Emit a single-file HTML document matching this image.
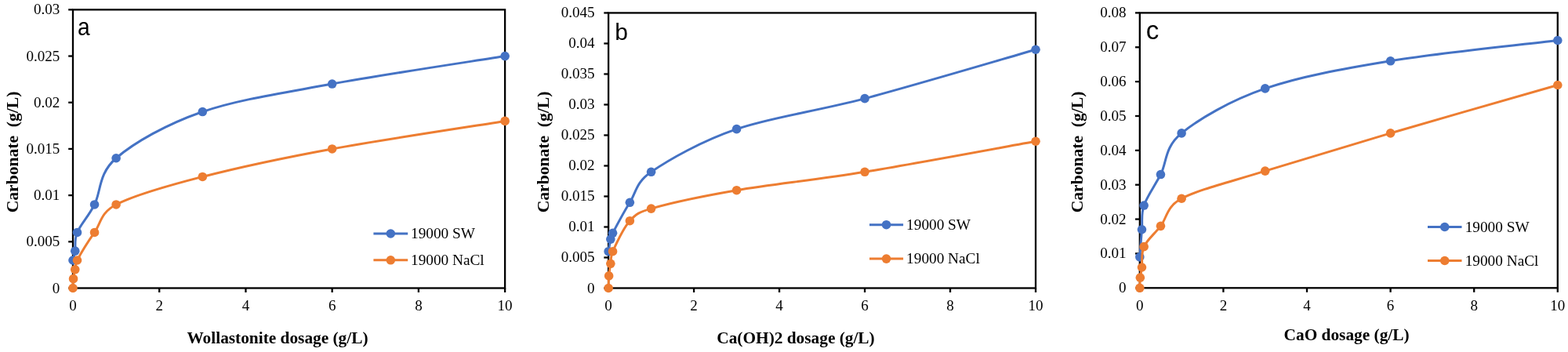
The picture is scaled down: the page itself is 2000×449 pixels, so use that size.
<!DOCTYPE html>
<html><head><meta charset="utf-8"><title>Carbonate vs dosage</title>
<style>
html,body{margin:0;padding:0;background:#fff;}
body{width:2000px;height:449px;overflow:hidden;}
svg{display:block;}
.t{font-family:'Liberation Serif','Times New Roman',serif;font-size:19.0px;fill:#000;}
.ti{font-family:'Liberation Serif','Times New Roman',serif;font-size:21.33px;font-weight:bold;fill:#000;white-space:pre;}
.lt{font-family:'Liberation Sans',Arial,sans-serif;font-size:31px;fill:#000;}
.ax{stroke:#000;stroke-width:2.3;fill:none;}
</style></head>
<body>
<svg width="2000" height="449" viewBox="0 0 2000 449">
<rect x="0" y="0" width="2000" height="449" fill="#fff" stroke="none"/>
<line class="ax" x1="87.20" y1="367.50" x2="93.00" y2="367.50" />
<text class="t" x="76.20" y="373.50" text-anchor="end">0</text>
<line class="ax" x1="87.20" y1="308.31" x2="93.00" y2="308.31" />
<text class="t" x="76.20" y="314.31" text-anchor="end">0.005</text>
<line class="ax" x1="87.20" y1="249.12" x2="93.00" y2="249.12" />
<text class="t" x="76.20" y="255.12" text-anchor="end">0.01</text>
<line class="ax" x1="87.20" y1="189.93" x2="93.00" y2="189.93" />
<text class="t" x="76.20" y="195.93" text-anchor="end">0.015</text>
<line class="ax" x1="87.20" y1="130.73" x2="93.00" y2="130.73" />
<text class="t" x="76.20" y="136.73" text-anchor="end">0.02</text>
<line class="ax" x1="87.20" y1="71.54" x2="93.00" y2="71.54" />
<text class="t" x="76.20" y="77.54" text-anchor="end">0.025</text>
<line class="ax" x1="87.20" y1="12.35" x2="93.00" y2="12.35" />
<text class="t" x="76.20" y="18.35" text-anchor="end">0.03</text>
<line class="ax" x1="93.00" y1="367.50" x2="93.00" y2="373.00" />
<text class="t" x="93.00" y="396.30" text-anchor="middle">0</text>
<line class="ax" x1="203.22" y1="367.50" x2="203.22" y2="373.00" />
<text class="t" x="203.22" y="396.30" text-anchor="middle">2</text>
<line class="ax" x1="313.44" y1="367.50" x2="313.44" y2="373.00" />
<text class="t" x="313.44" y="396.30" text-anchor="middle">4</text>
<line class="ax" x1="423.66" y1="367.50" x2="423.66" y2="373.00" />
<text class="t" x="423.66" y="396.30" text-anchor="middle">6</text>
<line class="ax" x1="533.88" y1="367.50" x2="533.88" y2="373.00" />
<text class="t" x="533.88" y="396.30" text-anchor="middle">8</text>
<line class="ax" x1="644.10" y1="367.50" x2="644.10" y2="373.00" />
<text class="t" x="644.10" y="396.30" text-anchor="middle">10</text>
<rect class="ax" x="93.00" y="12.35" width="551.10" height="355.15" fill="none" />
<path d="M93.00,331.99 C93.46,330.01 94.84,326.07 95.76,320.15 C96.67,314.23 94.38,306.34 98.51,296.47 C102.64,286.60 112.29,276.74 120.56,260.96 C128.82,245.17 125.15,221.49 148.11,201.76 C171.07,182.03 212.41,158.36 258.33,142.57 C304.25,126.79 359.36,118.90 423.66,107.06 C487.95,95.22 607.36,77.46 644.10,71.54" fill="none" stroke="#4472C4" stroke-width="3.0" stroke-linejoin="round" stroke-linecap="round"/>
<circle cx="93.00" cy="331.99" r="5.8" fill="#4472C4" stroke="none"/>
<circle cx="95.76" cy="320.15" r="5.8" fill="#4472C4" stroke="none"/>
<circle cx="98.51" cy="296.47" r="5.8" fill="#4472C4" stroke="none"/>
<circle cx="120.56" cy="260.96" r="5.8" fill="#4472C4" stroke="none"/>
<circle cx="148.11" cy="201.76" r="5.8" fill="#4472C4" stroke="none"/>
<circle cx="258.33" cy="142.57" r="5.8" fill="#4472C4" stroke="none"/>
<circle cx="423.66" cy="107.06" r="5.8" fill="#4472C4" stroke="none"/>
<circle cx="644.10" cy="71.54" r="5.8" fill="#4472C4" stroke="none"/>
<path d="M93.00,367.50 C93.09,365.53 93.09,359.61 93.55,355.66 C94.01,351.72 94.93,347.77 95.76,343.82 C96.58,339.88 95.69,337.37 98.51,331.99 C102.64,324.09 112.29,308.31 120.56,296.47 C128.82,284.63 128.13,271.25 148.11,260.96 C171.07,249.12 212.41,237.28 258.33,225.44 C304.25,213.60 359.36,201.76 423.66,189.93 C487.95,178.09 607.36,160.33 644.10,154.41" fill="none" stroke="#ED7D31" stroke-width="3.0" stroke-linejoin="round" stroke-linecap="round"/>
<circle cx="93.00" cy="367.50" r="5.8" fill="#ED7D31" stroke="none"/>
<circle cx="93.55" cy="355.66" r="5.8" fill="#ED7D31" stroke="none"/>
<circle cx="95.76" cy="343.82" r="5.8" fill="#ED7D31" stroke="none"/>
<circle cx="98.51" cy="331.99" r="5.8" fill="#ED7D31" stroke="none"/>
<circle cx="120.56" cy="296.47" r="5.8" fill="#ED7D31" stroke="none"/>
<circle cx="148.11" cy="260.96" r="5.8" fill="#ED7D31" stroke="none"/>
<circle cx="258.33" cy="225.44" r="5.8" fill="#ED7D31" stroke="none"/>
<circle cx="423.66" cy="189.93" r="5.8" fill="#ED7D31" stroke="none"/>
<circle cx="644.10" cy="154.41" r="5.8" fill="#ED7D31" stroke="none"/>
<line x1="476.40" y1="298.00" x2="520.20" y2="298.00" stroke="#4472C4" stroke-width="3.0" stroke-linecap="butt"/>
<circle cx="498.30" cy="298.00" r="5.8" fill="#4472C4"/>
<text class="t" style="font-size:19.3px" x="524.00" y="304.30">19000 SW</text>
<line x1="476.40" y1="331.80" x2="520.20" y2="331.80" stroke="#ED7D31" stroke-width="3.0" stroke-linecap="butt"/>
<circle cx="498.30" cy="331.80" r="5.8" fill="#ED7D31"/>
<text class="t" style="font-size:19.3px" x="524.00" y="338.10">19000 NaCl</text>
<text class="ti" x="354.00" y="438.30" text-anchor="middle">Wollastonite dosage (g/L)</text>
<text class="ti" style="font-size:21.6px" transform="translate(22.60,271.30) rotate(-90)" x="0" y="0" xml:space="preserve">Carbonate  (g/L)</text>
<text class="lt" style="font-size:32px" transform="translate(99.10,45.20) scale(0.88,1)" x="0" y="0">a</text>
<line class="ax" x1="770.30" y1="367.50" x2="776.10" y2="367.50" />
<text class="t" x="758.50" y="373.50" text-anchor="end">0</text>
<line class="ax" x1="770.30" y1="328.49" x2="776.10" y2="328.49" />
<text class="t" x="758.50" y="334.49" text-anchor="end">0.005</text>
<line class="ax" x1="770.30" y1="289.49" x2="776.10" y2="289.49" />
<text class="t" x="758.50" y="295.49" text-anchor="end">0.01</text>
<line class="ax" x1="770.30" y1="250.48" x2="776.10" y2="250.48" />
<text class="t" x="758.50" y="256.48" text-anchor="end">0.015</text>
<line class="ax" x1="770.30" y1="211.48" x2="776.10" y2="211.48" />
<text class="t" x="758.50" y="217.48" text-anchor="end">0.02</text>
<line class="ax" x1="770.30" y1="172.47" x2="776.10" y2="172.47" />
<text class="t" x="758.50" y="178.47" text-anchor="end">0.025</text>
<line class="ax" x1="770.30" y1="133.47" x2="776.10" y2="133.47" />
<text class="t" x="758.50" y="139.47" text-anchor="end">0.03</text>
<line class="ax" x1="770.30" y1="94.46" x2="776.10" y2="94.46" />
<text class="t" x="758.50" y="100.46" text-anchor="end">0.035</text>
<line class="ax" x1="770.30" y1="55.46" x2="776.10" y2="55.46" />
<text class="t" x="758.50" y="61.46" text-anchor="end">0.04</text>
<line class="ax" x1="770.30" y1="16.45" x2="776.10" y2="16.45" />
<text class="t" x="758.50" y="22.45" text-anchor="end">0.045</text>
<line class="ax" x1="776.10" y1="367.50" x2="776.10" y2="373.00" />
<text class="t" x="776.10" y="396.30" text-anchor="middle">0</text>
<line class="ax" x1="885.08" y1="367.50" x2="885.08" y2="373.00" />
<text class="t" x="885.08" y="396.30" text-anchor="middle">2</text>
<line class="ax" x1="994.06" y1="367.50" x2="994.06" y2="373.00" />
<text class="t" x="994.06" y="396.30" text-anchor="middle">4</text>
<line class="ax" x1="1103.04" y1="367.50" x2="1103.04" y2="373.00" />
<text class="t" x="1103.04" y="396.30" text-anchor="middle">6</text>
<line class="ax" x1="1212.02" y1="367.50" x2="1212.02" y2="373.00" />
<text class="t" x="1212.02" y="396.30" text-anchor="middle">8</text>
<line class="ax" x1="1321.00" y1="367.50" x2="1321.00" y2="373.00" />
<text class="t" x="1321.00" y="396.30" text-anchor="middle">10</text>
<rect class="ax" x="776.10" y="16.45" width="544.90" height="351.05" fill="none" />
<path d="M776.10,320.69 C776.55,318.09 777.92,308.99 778.82,305.09 C779.73,301.19 779.63,300.95 781.55,297.29 C785.64,289.49 795.17,271.29 803.35,258.28 C811.52,245.28 810.98,232.75 830.59,219.28 C853.29,203.68 894.16,180.27 939.57,164.67 C984.98,149.07 1039.47,142.57 1103.04,125.67 C1166.61,108.76 1284.67,73.66 1321.00,63.26" fill="none" stroke="#4472C4" stroke-width="3.0" stroke-linejoin="round" stroke-linecap="round"/>
<circle cx="776.10" cy="320.69" r="5.8" fill="#4472C4" stroke="none"/>
<circle cx="778.82" cy="305.09" r="5.8" fill="#4472C4" stroke="none"/>
<circle cx="781.55" cy="297.29" r="5.8" fill="#4472C4" stroke="none"/>
<circle cx="803.35" cy="258.28" r="5.8" fill="#4472C4" stroke="none"/>
<circle cx="830.59" cy="219.28" r="5.8" fill="#4472C4" stroke="none"/>
<circle cx="939.57" cy="164.67" r="5.8" fill="#4472C4" stroke="none"/>
<circle cx="1103.04" cy="125.67" r="5.8" fill="#4472C4" stroke="none"/>
<circle cx="1321.00" cy="63.26" r="5.8" fill="#4472C4" stroke="none"/>
<path d="M776.10,367.50 C776.19,364.90 776.19,357.10 776.64,351.90 C777.10,346.70 778.01,341.50 778.82,336.30 C779.64,331.09 778.31,327.92 781.55,320.69 C785.64,311.59 795.17,290.79 803.35,281.69 C811.52,272.59 815.50,270.41 830.59,266.09 C853.29,259.58 894.16,250.48 939.57,242.68 C984.98,234.88 1039.47,229.68 1103.04,219.28 C1166.61,208.88 1284.67,186.77 1321.00,180.27" fill="none" stroke="#ED7D31" stroke-width="3.0" stroke-linejoin="round" stroke-linecap="round"/>
<circle cx="776.10" cy="367.50" r="5.8" fill="#ED7D31" stroke="none"/>
<circle cx="776.64" cy="351.90" r="5.8" fill="#ED7D31" stroke="none"/>
<circle cx="778.82" cy="336.30" r="5.8" fill="#ED7D31" stroke="none"/>
<circle cx="781.55" cy="320.69" r="5.8" fill="#ED7D31" stroke="none"/>
<circle cx="803.35" cy="281.69" r="5.8" fill="#ED7D31" stroke="none"/>
<circle cx="830.59" cy="266.09" r="5.8" fill="#ED7D31" stroke="none"/>
<circle cx="939.57" cy="242.68" r="5.8" fill="#ED7D31" stroke="none"/>
<circle cx="1103.04" cy="219.28" r="5.8" fill="#ED7D31" stroke="none"/>
<circle cx="1321.00" cy="180.27" r="5.8" fill="#ED7D31" stroke="none"/>
<line x1="1109.00" y1="286.70" x2="1152.10" y2="286.70" stroke="#4472C4" stroke-width="3.0" stroke-linecap="butt"/>
<circle cx="1130.55" cy="286.70" r="5.8" fill="#4472C4"/>
<text class="t" style="font-size:19.3px" x="1156.10" y="293.00">19000 SW</text>
<line x1="1109.00" y1="330.10" x2="1152.10" y2="330.10" stroke="#ED7D31" stroke-width="3.0" stroke-linecap="butt"/>
<circle cx="1130.55" cy="330.10" r="5.8" fill="#ED7D31"/>
<text class="t" style="font-size:19.3px" x="1156.10" y="336.40">19000 NaCl</text>
<text class="ti" x="1015.00" y="437.90" text-anchor="middle">Ca(OH)2 dosage (g/L)</text>
<text class="ti" style="font-size:21.6px" transform="translate(700.10,271.30) rotate(-90)" x="0" y="0" xml:space="preserve">Carbonate  (g/L)</text>
<text class="lt" style="font-size:30px" x="784.20" y="51.30">b</text>
<line class="ax" x1="1448.00" y1="367.30" x2="1453.80" y2="367.30" />
<text class="t" x="1436.50" y="373.30" text-anchor="end">0</text>
<line class="ax" x1="1448.00" y1="323.44" x2="1453.80" y2="323.44" />
<text class="t" x="1436.50" y="329.44" text-anchor="end">0.01</text>
<line class="ax" x1="1448.00" y1="279.57" x2="1453.80" y2="279.57" />
<text class="t" x="1436.50" y="285.57" text-anchor="end">0.02</text>
<line class="ax" x1="1448.00" y1="235.71" x2="1453.80" y2="235.71" />
<text class="t" x="1436.50" y="241.71" text-anchor="end">0.03</text>
<line class="ax" x1="1448.00" y1="191.85" x2="1453.80" y2="191.85" />
<text class="t" x="1436.50" y="197.85" text-anchor="end">0.04</text>
<line class="ax" x1="1448.00" y1="147.99" x2="1453.80" y2="147.99" />
<text class="t" x="1436.50" y="153.99" text-anchor="end">0.05</text>
<line class="ax" x1="1448.00" y1="104.12" x2="1453.80" y2="104.12" />
<text class="t" x="1436.50" y="110.12" text-anchor="end">0.06</text>
<line class="ax" x1="1448.00" y1="60.26" x2="1453.80" y2="60.26" />
<text class="t" x="1436.50" y="66.26" text-anchor="end">0.07</text>
<line class="ax" x1="1448.00" y1="16.40" x2="1453.80" y2="16.40" />
<text class="t" x="1436.50" y="22.40" text-anchor="end">0.08</text>
<line class="ax" x1="1453.80" y1="367.30" x2="1453.80" y2="372.80" />
<text class="t" x="1453.80" y="396.30" text-anchor="middle">0</text>
<line class="ax" x1="1560.40" y1="367.30" x2="1560.40" y2="372.80" />
<text class="t" x="1560.40" y="396.30" text-anchor="middle">2</text>
<line class="ax" x1="1667.00" y1="367.30" x2="1667.00" y2="372.80" />
<text class="t" x="1667.00" y="396.30" text-anchor="middle">4</text>
<line class="ax" x1="1773.60" y1="367.30" x2="1773.60" y2="372.80" />
<text class="t" x="1773.60" y="396.30" text-anchor="middle">6</text>
<line class="ax" x1="1880.20" y1="367.30" x2="1880.20" y2="372.80" />
<text class="t" x="1880.20" y="396.30" text-anchor="middle">8</text>
<line class="ax" x1="1986.80" y1="367.30" x2="1986.80" y2="372.80" />
<text class="t" x="1986.80" y="396.30" text-anchor="middle">10</text>
<rect class="ax" x="1453.80" y="16.40" width="533.00" height="350.90" fill="none" />
<path d="M1453.80,327.82 C1454.24,321.98 1455.58,303.70 1456.46,292.73 C1457.35,281.77 1455.13,273.73 1459.13,262.03 C1463.13,250.33 1472.45,237.91 1480.45,222.55 C1488.45,207.20 1484.89,188.19 1507.10,169.92 C1529.31,151.64 1569.28,128.25 1613.70,112.90 C1658.12,97.55 1711.42,88.04 1773.60,77.81 C1835.78,67.57 1951.27,55.88 1986.80,51.49" fill="none" stroke="#4472C4" stroke-width="3.0" stroke-linejoin="round" stroke-linecap="round"/>
<circle cx="1453.80" cy="327.82" r="5.8" fill="#4472C4" stroke="none"/>
<circle cx="1456.46" cy="292.73" r="5.8" fill="#4472C4" stroke="none"/>
<circle cx="1459.13" cy="262.03" r="5.8" fill="#4472C4" stroke="none"/>
<circle cx="1480.45" cy="222.55" r="5.8" fill="#4472C4" stroke="none"/>
<circle cx="1507.10" cy="169.92" r="5.8" fill="#4472C4" stroke="none"/>
<circle cx="1613.70" cy="112.90" r="5.8" fill="#4472C4" stroke="none"/>
<circle cx="1773.60" cy="77.81" r="5.8" fill="#4472C4" stroke="none"/>
<circle cx="1986.80" cy="51.49" r="5.8" fill="#4472C4" stroke="none"/>
<path d="M1453.80,367.30 C1453.89,365.11 1453.89,358.53 1454.33,354.14 C1454.78,349.75 1455.67,347.56 1456.46,340.98 C1457.26,334.40 1455.13,323.44 1459.13,314.67 C1463.13,305.89 1472.45,298.58 1480.45,288.35 C1488.45,278.11 1487.61,263.52 1507.10,253.26 C1529.31,241.56 1569.28,232.06 1613.70,218.17 C1658.12,204.28 1711.42,188.19 1773.60,169.92 C1835.78,151.64 1951.27,118.75 1986.80,108.51" fill="none" stroke="#ED7D31" stroke-width="3.0" stroke-linejoin="round" stroke-linecap="round"/>
<circle cx="1453.80" cy="367.30" r="5.8" fill="#ED7D31" stroke="none"/>
<circle cx="1454.33" cy="354.14" r="5.8" fill="#ED7D31" stroke="none"/>
<circle cx="1456.46" cy="340.98" r="5.8" fill="#ED7D31" stroke="none"/>
<circle cx="1459.13" cy="314.67" r="5.8" fill="#ED7D31" stroke="none"/>
<circle cx="1480.45" cy="288.35" r="5.8" fill="#ED7D31" stroke="none"/>
<circle cx="1507.10" cy="253.26" r="5.8" fill="#ED7D31" stroke="none"/>
<circle cx="1613.70" cy="218.17" r="5.8" fill="#ED7D31" stroke="none"/>
<circle cx="1773.60" cy="169.92" r="5.8" fill="#ED7D31" stroke="none"/>
<circle cx="1986.80" cy="108.51" r="5.8" fill="#ED7D31" stroke="none"/>
<line x1="1821.00" y1="289.50" x2="1864.50" y2="289.50" stroke="#4472C4" stroke-width="3.0" stroke-linecap="butt"/>
<circle cx="1842.75" cy="289.50" r="5.8" fill="#4472C4"/>
<text class="t" style="font-size:19.3px" x="1868.70" y="295.80">19000 SW</text>
<line x1="1821.00" y1="332.50" x2="1864.50" y2="332.50" stroke="#ED7D31" stroke-width="3.0" stroke-linecap="butt"/>
<circle cx="1842.75" cy="332.50" r="5.8" fill="#ED7D31"/>
<text class="t" style="font-size:19.3px" x="1868.70" y="338.80">19000 NaCl</text>
<text class="ti" x="1717.60" y="434.00" text-anchor="middle">CaO dosage (g/L)</text>
<text class="ti" style="font-size:21.6px" transform="translate(1380.50,271.30) rotate(-90)" x="0" y="0" xml:space="preserve">Carbonate  (g/L)</text>
<text class="lt" style="font-size:33px" x="1461.80" y="49.70">c</text>
</svg>
</body></html>
